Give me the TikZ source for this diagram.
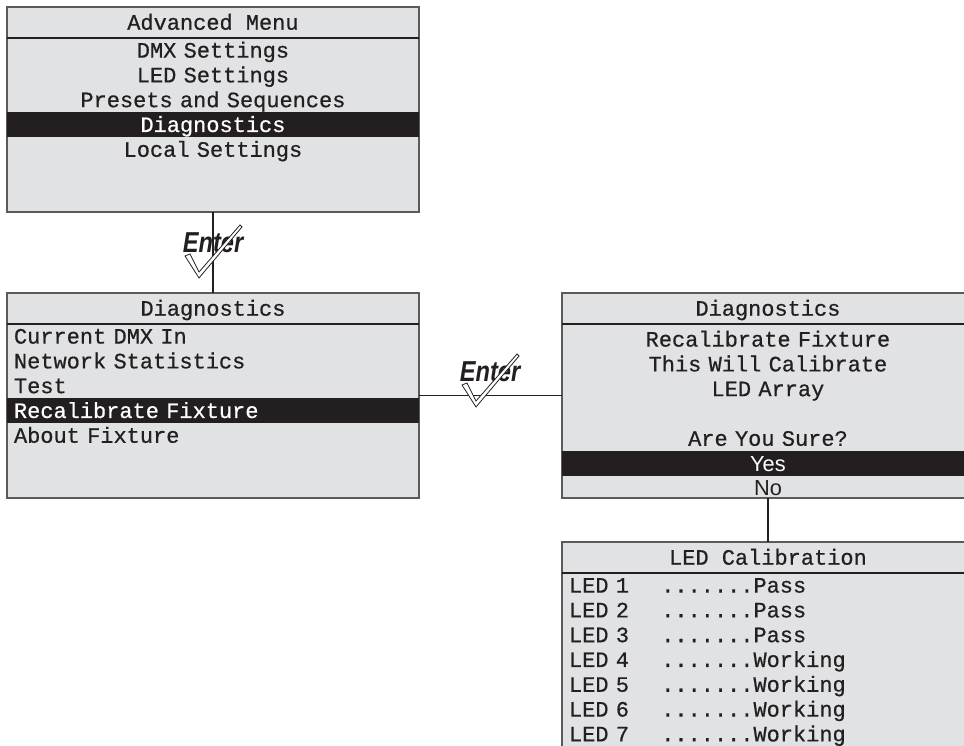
\documentclass[tikz,border=0pt]{standalone}
\usepackage{fontspec}
\setmonofont{Liberation Mono}[FakeBold=0.6]
\setsansfont{Liberation Sans}
\usepackage{graphicx}
\usepackage{tikz}
\usetikzlibrary{positioning,calc}
\definecolor{cScreen}{RGB}{225,226,228}
\definecolor{cInk}{RGB}{35,31,32}
\definecolor{cFrame}{RGB}{90,90,90}
\newcommand{\lcd}{\ttfamily\fontsize{12.5}{14}\selectfont
  \spaceskip=\fontcharwd\font`M\relax \xspaceskip=\spaceskip}
\newcommand{\lcdsans}{\sffamily\fontsize{12.4}{14}\selectfont}
\newcommand{\cols}[2]{\makebox[#1\fontcharwd\font`M][l]{#2}}
\tikzset{
  screen/.style={draw=cFrame, fill=cScreen, line width=0.8pt, anchor=north west,
                 minimum width=8.24cm, minimum height=4.1cm, inner sep=0pt, outer sep=0pt},
  title/.style={minimum width=8.24cm, minimum height=0.62cm, inner sep=0pt, outer sep=0pt,
                font=\lcd, text=cInk, text height=8.2pt, text depth=0pt},
  row/.style={text width=7.96cm, inner xsep=0.14cm, inner ysep=0pt, outer sep=0pt,
              minimum height=0.496cm, align=center, font=\lcd, text=cInk,
              text height=8.2pt, text depth=0pt},
  rowl/.style={row, align=left},
  rows/.style={row, font=\lcdsans, text height=8.9pt},
  sel/.style={fill=cInk, text=white},
  sepline/.style={draw=cInk, line width=1.1pt},
  link/.style={draw=cInk, line width=1.1pt},
  enter/.style={font=\sffamily\bfseries\itshape\fontsize{16.4}{18}\selectfont, text=cInk,
                inner sep=0pt, text height=11.7pt, text depth=0pt},
  tick/.style={draw=cInk, fill=white, line width=0.45pt, line join=miter},
}
% "Enter" with its tick, #1 = name, #2 = position
\newcommand{\enterlabel}[2]{%
  \node[enter] (#1) at (#2) {\scalebox{0.82}[1]{Enter}};
  \draw[tick, shift={(#1)}] (-28,14) -- (-14,36) -- (29,-15) -- (27,-17) -- (-14,30) -- (-23,12) -- cycle;
}

\begin{document}
\begin{tikzpicture}[x=0.02cm, y=-0.02cm]
  \useasboundingbox (0,0) rectangle (964,746);
  \clip (0,0) rectangle (964,746);

  % screens
  \node[screen] (menuA) at (7,7) {};
  \node[screen] (diag) at (7,293) {};
  \node[screen] (diagB) at (562,293) {};
  \node[screen, minimum height=4.2cm] (cal) at (562,542) {};

  % connectors
  \draw[link] (menuA.south) -- (diag.north);
  \draw[link] (diag.east) -- (diagB.west);
  \draw[link] (diagB.south) -- (cal.north);

  % advanced menu
  \node[title, below=0pt of menuA.north] (menuA0) {Advanced Menu};
  \draw[sepline] (menuA0.south west) -- (menuA0.south east);
  \node[row, below=0pt of menuA0] (menuA1) {DMX Settings};
  \node[row, below=0pt of menuA1] (menuA2) {LED Settings};
  \node[row, below=0pt of menuA2] (menuA3) {Presets and Sequences};
  \node[row, sel, below=0pt of menuA3] (menuA4) {Diagnostics};
  \node[row, below=0pt of menuA4] (menuA5) {Local Settings};

  % diagnostics
  \node[title, below=0pt of diag.north] (diag0) {Diagnostics};
  \draw[sepline] (diag0.south west) -- (diag0.south east);
  \node[rowl, below=0pt of diag0] (diag1) {Current DMX In};
  \node[rowl, below=0pt of diag1] (diag2) {Network Statistics};
  \node[rowl, below=0pt of diag2] (diag3) {Test};
  \node[rowl, sel, below=0pt of diag3] (diag4) {Recalibrate Fixture};
  \node[rowl, below=0pt of diag4] (diag5) {About Fixture};

  % confirm
  \node[title, below=0pt of diagB.north] (diagB0) {Diagnostics};
  \draw[sepline] (diagB0.south west) -- (diagB0.south east);
  \node[row, below=0.06cm of diagB0] (diagB1) {Recalibrate Fixture};
  \node[row, below=0pt of diagB1] (diagB2) {This Will Calibrate};
  \node[row, below=0pt of diagB2] (diagB3) {LED Array};
  \node[row, below=0pt of diagB3] (diagB4) {};
  \node[row, below=0pt of diagB4] (diagB5) {Are You Sure?};
  \node[rows, sel, below=0pt of diagB5] (diagB6) {Yes};
  \node[rows, below=0pt of diagB6] (diagB7) {No};

  % calibration
  \node[title, below=0pt of cal.north] (cal0) {LED Calibration};
  \draw[sepline] (cal0.south west) -- (cal0.south east);
  \foreach \i/\res in {1/Pass,2/Pass,3/Pass,4/Working,5/Working,6/Working,7/Working} {
    \pgfmathtruncatemacro\prev{\i-1}
    \node[rowl, below=0pt of cal\prev] (cal\i) {\cols{7}{LED \i}\cols{7}{.......}\res};
  }

  % enter keys
  \enterlabel{enterA}{213,242}
  \enterlabel{enterB}{490,371}
\end{tikzpicture}
\end{document}
